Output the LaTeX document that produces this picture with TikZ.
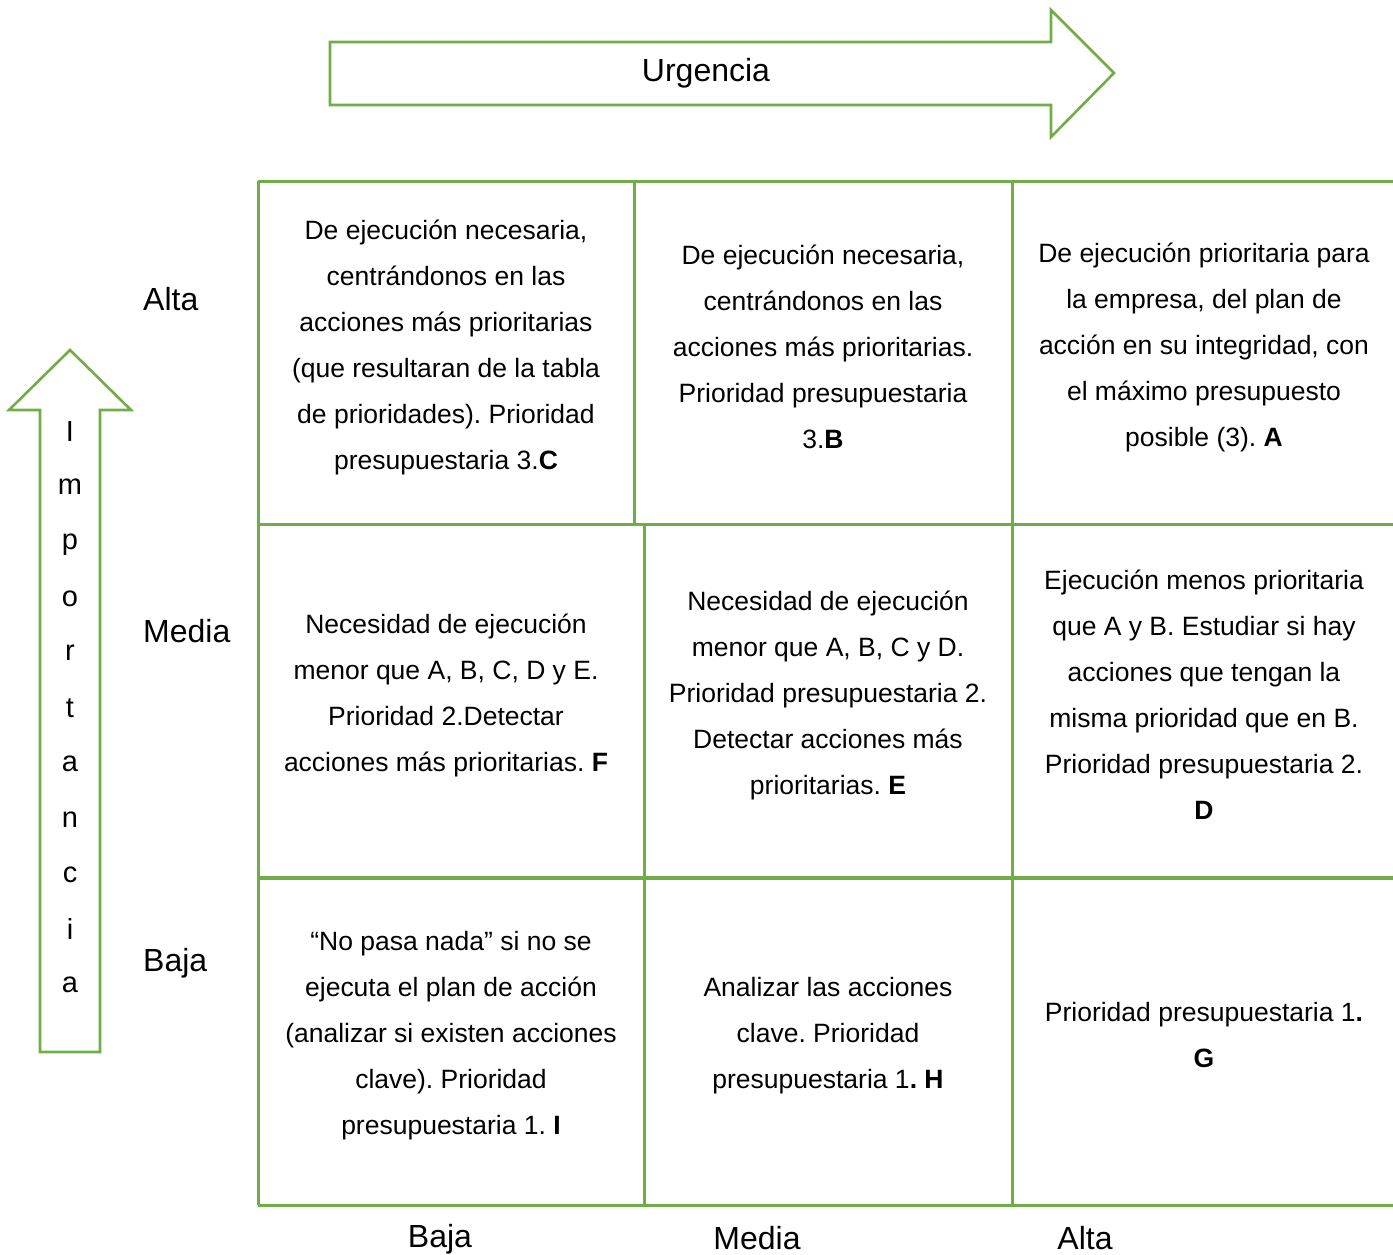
\documentclass[tikz,border=0pt]{standalone}
\usepackage{fontspec}
\setmainfont{Liberation Sans}
\frenchspacing
\definecolor{grn}{RGB}{112,173,71}
\begin{document}
\begin{tikzpicture}[x=1pt,y=-1pt,
  gline/.style={draw=grn,line width=3pt},
  arrowshape/.style={draw=grn,line width=2.6pt,line join=miter},
  celltext/.style={align=center,inner sep=0pt,font=\fontsize{26.5}{46}\selectfont},
  axislabel/.style={inner sep=0pt,font=\fontsize{32}{36}\selectfont},
  vletter/.style={inner sep=0pt,font=\fontsize{29}{32}\selectfont}]
\useasboundingbox (0,0) rectangle (1393,1254);
% Urgencia arrow
\draw[arrowshape] (330,42) -- (1051,42) -- (1051,10) -- (1114,73) -- (1051,137) -- (1051,105) -- (330,105) -- cycle;
\node[axislabel] (urg) at (706,73) {Urgencia};
% Importancia arrow
\draw[arrowshape] (70,350) -- (131,410) -- (100,410) -- (100,1052) -- (40,1052) -- (40,410) -- (9,410) -- cycle;
\foreach \l/\y [count=\i] in {I/432,m/487,p/545,o/599,r/653,t/708,a/764,n/820,c/875,i/929,a/985}
  \node[vletter] (imp\i) at (70,\y) {\l};
% grid
\draw[gline] (258,181) -- (1393,181);
\draw[gline] (258,524) -- (1393,524);
\draw[gline,line width=3.8pt] (258,878) -- (1393,878);
\draw[gline] (258,1205) -- (1393,1205);
\draw[gline] (258,181) -- (258,1205);
\draw[gline] (634,181) -- (634,524);
\draw[gline] (644,524) -- (644,1205);
\draw[gline] (1012,181) -- (1012,1205);
% row labels
\node[axislabel,anchor=west] (ralta) at (143,299) {Alta};
\node[axislabel,anchor=west] (rmedia) at (143,631) {Media};
\node[axislabel,anchor=west] (rbaja) at (143,963) {Baja};
% column labels
\node[axislabel] (cbaja) at (440,1239) {Baja};
\node[axislabel] (cmedia) at (757,1238) {Media};
\node[axislabel] (calta) at (1085,1238) {Alta};
% cells
\node[celltext] (cC) at (446,347) {De ejecución necesaria,\\centrándonos en las\\acciones más prioritarias\\(que resultaran de la tabla\\de prioridades). Prioridad\\presupuestaria 3.\textbf{C}};
\node[celltext] (cB) at (823,347) {De ejecución necesaria,\\centrándonos en las\\acciones más prioritarias.\\Prioridad presupuestaria\\3.\textbf{B}};
\node[celltext] (cA) at (1204,347) {De ejecución prioritaria para\\la empresa, del plan de\\acción en su integridad, con\\el máximo presupuesto\\posible (3). \textbf{A}};
\node[celltext] (cF) at (446,695) {Necesidad de ejecución\\menor que A, B, C, D y E.\\Prioridad 2.Detectar\\acciones más prioritarias. \textbf{F}};
\node[celltext] (cE) at (828,695) {Necesidad de ejecución\\menor que A, B, C y D.\\Prioridad presupuestaria 2.\\Detectar acciones más\\prioritarias. \textbf{E}};
\node[celltext] (cD) at (1204,695) {Ejecución menos prioritaria\\que A y B. Estudiar si hay\\acciones que tengan la\\misma prioridad que en B.\\Prioridad presupuestaria 2.\\\textbf{D}};
\node[celltext] (cI) at (451,1036) {“No pasa nada” si no se\\ejecuta el plan de acción\\(analizar si existen acciones\\clave). Prioridad\\presupuestaria 1. \textbf{I}};
\node[celltext] (cH) at (828,1036) {Analizar las acciones\\clave. Prioridad\\presupuestaria 1\textbf{. H}};
\node[celltext] (cG) at (1204,1035) {Prioridad presupuestaria 1\textbf{.}\\\textbf{G}};
\end{tikzpicture}
\end{document}
